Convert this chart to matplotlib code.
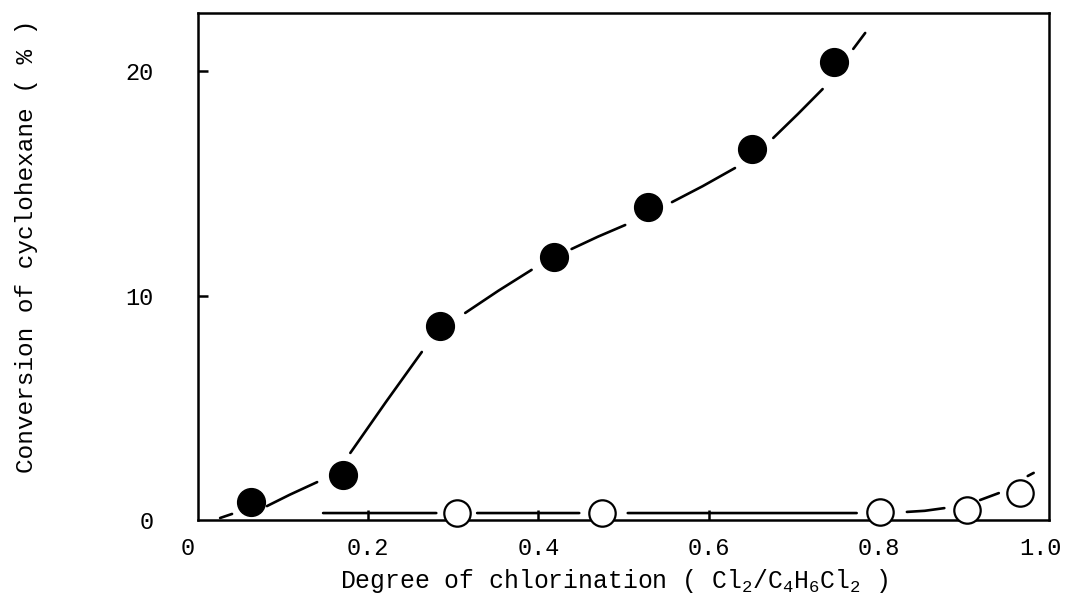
import numpy as np
import matplotlib
matplotlib.use("Agg")
import matplotlib.pyplot as plt
from matplotlib.transforms import ScaledTranslation

# ---- data ----
filled_x = [0.062, 0.170, 0.284, 0.418, 0.529, 0.651, 0.747]
filled_y = [0.80, 2.00, 8.65, 11.73, 13.95, 16.54, 20.41]

open_x = [0.304, 0.475, 0.801, 0.904, 0.966]
open_y = [0.31, 0.31, 0.36, 0.44, 1.20]

# hand-drawn dashed guide curves (dash pieces, separated by NaN)
nan = np.nan
filled_curve_x = [0.026, 0.040, nan,
                  0.081, 0.108, 0.140, nan,
                  0.179, 0.221, 0.263, nan,
                  0.314, 0.353, 0.392, nan,
                  0.439, 0.470, 0.502, nan,
                  0.557, 0.593, 0.631, nan,
                  0.676, 0.705, 0.734, nan,
                  0.770, 0.784]
filled_curve_y = [0.09, 0.27, nan,
                  0.62, 1.13, 1.69, nan,
                  2.99, 5.27, 7.49, nan,
                  9.23, 10.22, 11.15, nan,
                  12.08, 12.63, 13.15, nan,
                  14.17, 14.88, 15.69, nan,
                  17.03, 18.10, 19.21, nan,
                  21.00, 21.71]

open_curve_x = [0.147, 0.280, nan,
                0.328, 0.448, nan,
                0.505, 0.774, nan,
                0.833, 0.854, 0.877, nan,
                0.919, 0.941, nan,
                0.975, 0.982]
open_curve_y = [0.31, 0.31, nan,
                0.31, 0.31, nan,
                0.31, 0.31, nan,
                0.36, 0.41, 0.53, nan,
                0.89, 1.20, nan,
                1.96, 2.10]

x_ticks = [0, 0.2, 0.4, 0.6, 0.8, 1.0]
x_ticklabels = ["0", "0.2", "0.4", "0.6", "0.8", "1.0"]
y_ticks = [0, 10, 20]
y_ticklabels = ["0", "10", "20"]

FONT = "Liberation Mono"
plt.rcParams["font.family"] = [FONT, "DejaVu Sans Mono"]
plt.rcParams["mathtext.fontset"] = "custom"
plt.rcParams["mathtext.rm"] = FONT
plt.rcParams["mathtext.it"] = FONT
plt.rcParams["mathtext.default"] = "rm"

W, H = 1067, 605
fig = plt.figure(figsize=(W / 100, H / 100), dpi=100)
left, right, top, bottom = 198, 1049, 13, 520
ax = fig.add_axes([left / W, 1 - bottom / H, (right - left) / W, (bottom - top) / H])

ax.set_xlim(0, 1.0)
ax.set_ylim(0, 22.6)

lw = 1.9
ax.plot(filled_curve_x, filled_curve_y, color="black", lw=lw,
        solid_capstyle="round", zorder=2)
ax.plot(open_curve_x, open_curve_y, color="black", lw=lw,
        solid_capstyle="round", zorder=2)

ax.plot(filled_x, filled_y, "o", ms=20, color="black", mec="black",
        ls="none", zorder=3, clip_on=False)
ax.plot(open_x, open_y, "o", ms=19, mfc="white", mec="black", mew=1.6,
        ls="none", zorder=3, clip_on=False)

for s in ax.spines.values():
    s.set_linewidth(1.8)

fs = 17
ax.set_xticks(x_ticks)
ax.set_xticklabels(x_ticklabels, fontsize=fs)
ax.set_yticks(y_ticks)
ax.set_yticklabels(y_ticklabels, fontsize=fs)
ax.tick_params(axis="x", direction="in", length=7, width=1.8, pad=12)
ax.tick_params(axis="y", direction="in", length=7, width=1.8, pad=32)
# no visible tick marks at the corners
xt = ax.xaxis.get_major_ticks()
xt[0].tick1line.set_visible(False)
xt[-1].tick1line.set_visible(False)
yt = ax.yaxis.get_major_ticks()
yt[0].tick1line.set_visible(False)

# small hand-typed offsets of the end labels
lbls = ax.get_xticklabels()
lbls[0].set_transform(lbls[0].get_transform() + ScaledTranslation(-10 / 100, 0, fig.dpi_scale_trans))
lbls[-1].set_transform(lbls[-1].get_transform() + ScaledTranslation(-9 / 100, 0, fig.dpi_scale_trans))

ax.set_xlabel(r"Degree of chlorination ( Cl$_2$/C$_4$H$_6$Cl$_2$ )",
              fontsize=17.8, labelpad=5)
xl = ax.xaxis.label
xl.set_transform(xl.get_transform() + ScaledTranslation(-9 / 100, 0, fig.dpi_scale_trans))

fig.text(27 / W, 1 - 246 / H, "Conversion of cyclohexane ( % )",
         rotation=90, ha="center", va="center", fontsize=17.6)

fig.savefig("out.png", dpi=100)
